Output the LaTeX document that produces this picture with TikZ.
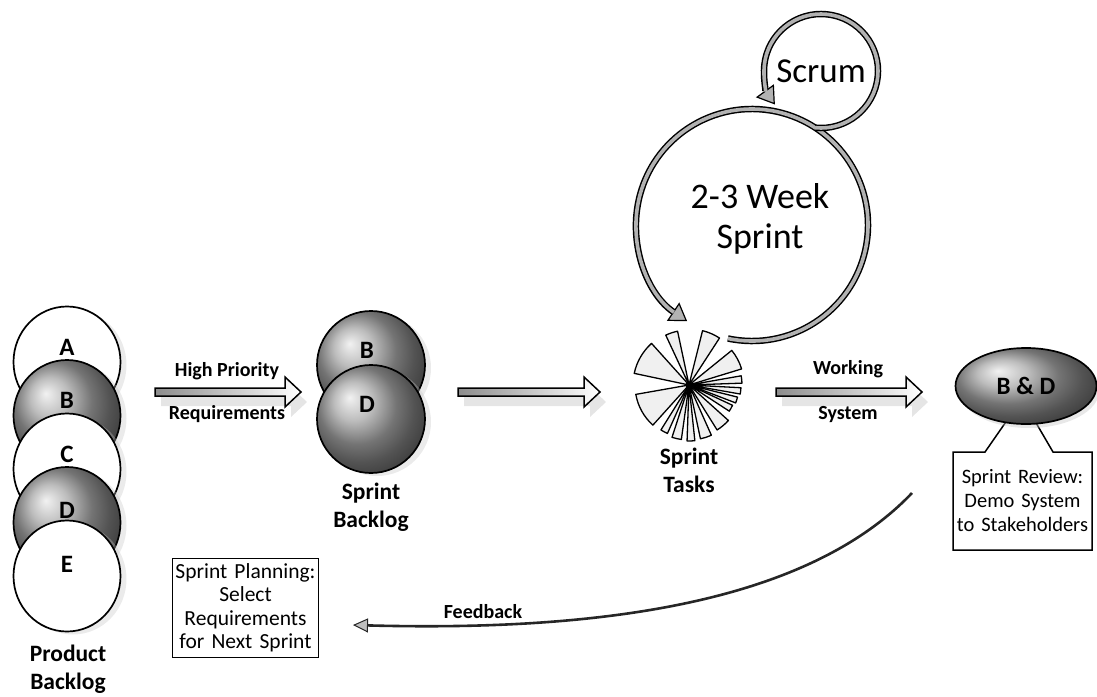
\documentclass[tikz,border=0pt]{standalone}
\usepackage{fontspec}
\setmainfont{Carlito}
\usetikzlibrary{arrows.meta,calc,shapes.geometric,shadows}
\newcommand\blockarrow[2]{%
  \fill[gray!20] ($(#1)+(6,4)$) -- ($(#2)+(-10,4)$) -- ($(#2)+(-10,-5)$) -- ($(#2)+(6,10)$) -- ($(#2)+(-10,25)$) -- ($(#2)+(-10,14)$) -- ($(#1)+(6,14)$) -- cycle;
  \shadedraw[left color=gray!90, right color=white, line width=1.5pt, line join=miter]
    ($(#1)+(0,-4)$) -- ($(#2)+(-16,-4)$) -- ($(#2)+(-16,-15)$) -- (#2) --
    ($(#2)+(-16,15)$) -- ($(#2)+(-16,4)$) -- ($(#1)+(0,4)$) -- cycle;
}
\begin{document}
\begin{tikzpicture}[x=1pt,y=-1pt,
  every node/.style={inner sep=0pt,outer sep=0pt},
  pcirc/.style={ellipse,minimum width=107pt,minimum height=111pt,draw=black,line width=1.7pt,
    drop shadow={shadow xshift=6pt,shadow yshift=-3pt,fill=gray!45,opacity=.35}},
  sphere/.style={pcirc,ball color=gray!70},
  plain/.style={pcirc,fill=white},
  letter/.style={font=\bfseries\fontsize{25}{27}\selectfont},
  arrlbl/.style={font=\bfseries\fontsize{20}{22}\selectfont},
  biglbl/.style={font=\bfseries\fontsize{23.5}{28}\selectfont,align=center},
  ring/.style={line width=6.5pt,black,-{Triangle[length=17pt,width=22pt,line width=1.2pt,fill=gray!60]}},
  ringin/.style={line width=3.6pt,gray!60,shorten >=16pt},
  wedge/.style={draw=black,line width=1.3pt,fill=gray!12,line join=round},
  fb/.style={line width=2.6pt,black!85,-{Triangle[length=15pt,width=14pt,fill=gray!50,line width=1pt]}}
]
\useasboundingbox (0,0) rectangle (1097,696);

% ---------- Product backlog ----------
\node[plain]  (pA) at (67,362) {};
\node[sphere] (pB) at (67,415.5) {};
\node[plain]  (pC) at (67,469) {};
\node[sphere] (pD) at (67,522.5) {};
\node[plain]  (pE) at (67,576) {};
\node[letter] (lA) at (67,347) {A};
\node[letter] (lB) at (67,400) {B};
\node[letter] (lC) at (67,454) {C};
\node[letter] (lD) at (67,510) {D};
\node[letter] (lE) at (67,564) {E};
\node[biglbl] (prod) at (68,669) {Product\\Backlog};

% ---------- arrow 1 ----------
\coordinate (a1s) at (155,392);
\coordinate (a1e) at (301,392);
\blockarrow{a1s}{a1e}
\node[arrlbl] (hp) at (227,371) {High Priority};
\node[arrlbl] (req) at (227,414) {Requirements};

% ---------- Sprint backlog ----------
\node[sphere,minimum width=108pt,minimum height=108pt] (sB) at (371,365) {};
\node[sphere,minimum width=108pt,minimum height=108pt] (sD) at (371,419) {};
\node[letter] (slB) at (367,350) {B};
\node[letter] (slD) at (367,404) {D};
\node[biglbl] (sbl) at (371,507) {Sprint\\Backlog};

% ---------- arrow 2 ----------
\coordinate (a2s) at (458,392);
\coordinate (a2e) at (600,392);
\blockarrow{a2s}{a2e}

% ---------- Sprint tasks (pie) ----------
\coordinate (pie) at (689,385);
\foreach \a/\b/\r in {102/115/55, 57/76/56, 17/39/55, 2/10/53, -10/-3/52, -21/-14/50,
    -33/-25/48, -58/-42/53, -78/-66/55, -92/-84/56, -108/-98/55, -122/-114/53,
    190/228/54, 132/168/56}{
  \draw[wedge] (pie) -- ++(-\a:\r) arc[start angle=-\a,end angle=-\b,radius=\r] -- cycle;
}
\fill[black] (pie) circle[radius=3.5];
\node[biglbl] (tasks) at (689,470) {Sprint\\Tasks};

% ---------- 2-3 week sprint ring ----------
\coordinate (bcc) at (752,225);
\node[font=\fontsize{36}{40}\selectfont,align=center] (sprint) at (760,219) {2-3 Week\\Sprint};
\draw[ring] (bcc) ++(102:116) arc[start angle=102,end angle=-236,radius=116];
\draw[ringin] (bcc) ++(102:116) arc[start angle=102,end angle=-236,radius=116];

% ---------- Scrum ring ----------
\coordinate (scc) at (821,71);
\node[font=\fontsize{35}{39}\selectfont] (scrum) at (scc) {Scrum};
\draw[ring] (scc) ++(96:57) arc[start angle=96,end angle=-216,radius=57];
\draw[ringin] (scc) ++(96:57) arc[start angle=96,end angle=-216,radius=57];

% ---------- arrow 3 ----------
\coordinate (a3s) at (776,392);
\coordinate (a3e) at (922,392);
\blockarrow{a3s}{a3e}
\node[arrlbl] (work) at (848,369) {Working};
\node[arrlbl] (sys) at (848,415) {System};

% ---------- Sprint review ----------
\coordinate (bdc) at (1026,386);
\node[font=\fontsize{20.5}{24}\selectfont,align=center,text width=139pt,minimum height=98pt] (rev) at (1022.5,501)
  {Sprint Review:\\Demo System\\to Stakeholders};
\draw[line width=1.5pt,line join=miter] (rev.north west) -- ($(rev.north west)+(32,0)$) -- ($(bdc)+(-16,30)$)
  -- ($(bdc)+(6,30)$) -- ($(rev.north west)+(100,0)$) -- (rev.north east) -- (rev.south east)
  -- (rev.south west) -- cycle;
\node[ellipse,minimum width=141pt,minimum height=76pt,draw=black,line width=1.7pt,ball color=gray!70,
  drop shadow={shadow xshift=3pt,shadow yshift=-4pt,fill=gray!45,opacity=.4},
  font=\bfseries\fontsize{25}{27}\selectfont] (bd) at (bdc) {B \& D};

% ---------- Sprint planning ----------
\node[font=\fontsize{21.5}{23.5}\selectfont,align=center,draw=black,line width=1.5pt,
  text width=144pt,minimum width=146pt,minimum height=99pt] (plan) at (245.5,608)
  {Sprint Planning:\\Select\\Requirements\\for Next Sprint};

% ---------- Feedback ----------
\coordinate (fbs) at (912,493);
\coordinate (fbe) at (353,625);
\draw[fb] (fbs) .. controls (810,600) and (610,632) .. (fbe);
\node[arrlbl] (fbl) at (483,612) {Feedback};
\end{tikzpicture}
\end{document}
